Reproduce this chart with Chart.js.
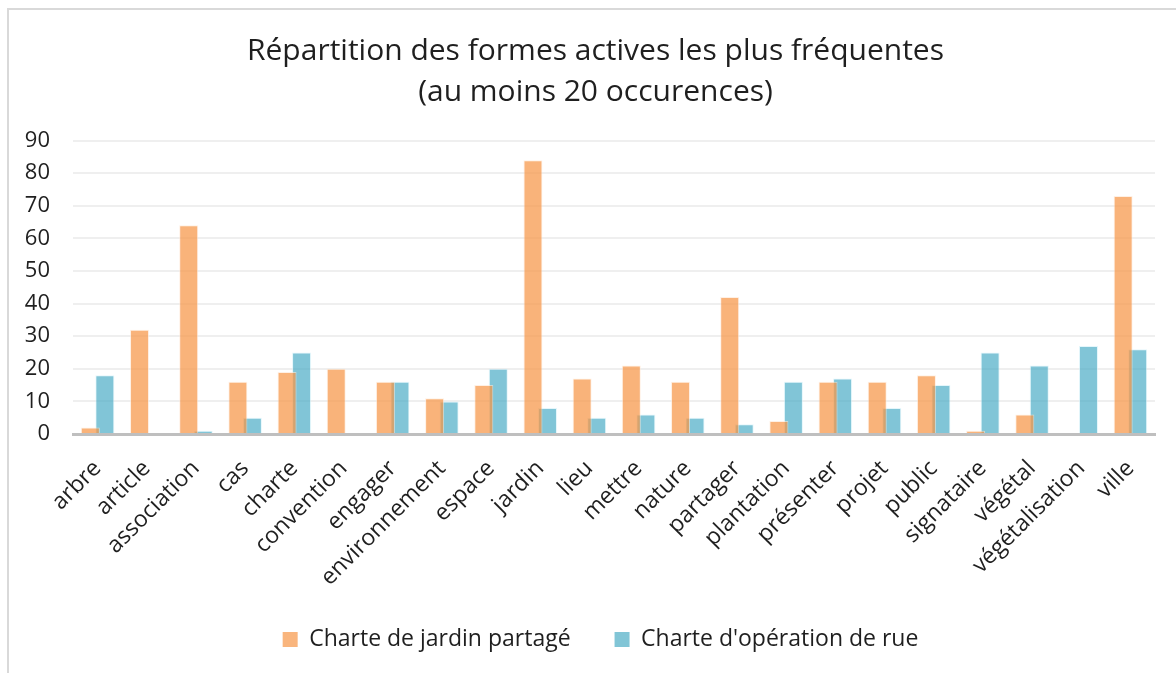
<!DOCTYPE html>
<html>
<head>
<meta charset="utf-8">
<script src="https://cdn.jsdelivr.net/npm/chart.js@4/dist/chart.umd.min.js"></script>
<style>
    html, body { margin: 0; padding: 0; background: #fff; overflow: hidden; }
    #frame {
        position: absolute; left: 7px; top: 8px;
        width: 1300px; height: 800px;
        border-left: 2px solid #d9d9d9; border-top: 2px solid #d9d9d9;
    }
    #wrap { position: absolute; left: 0; top: 0; width: 1176px; height: 673px; }
</style>
</head>
<body>
<div id="frame"></div>
<div id="wrap"><canvas id="formesChart"></canvas></div>
<script>
// catégories (formes actives)
const categories = ['arbre', 'article', 'association', 'cas', 'charte', 'convention', 'engager',
    'environnement', 'espace', 'jardin', 'lieu', 'mettre', 'nature', 'partager', 'plantation',
    'présenter', 'projet', 'public', 'signataire', 'végétal', 'végétalisation', 'ville'];

// occurrences par charte
const jardinPartage = [2, 32, 64, 16, 19, 20, 16, 11, 15, 84, 17, 21, 16, 42, 4, 16, 16, 18, 1, 6, 0, 73];
const operationRue  = [18, 0, 1, 5, 25, 0, 16, 10, 20, 8, 5, 6, 5, 3, 16, 17, 8, 15, 25, 21, 27, 26];

const seriesNames = ['Charte de jardin partagé', "Charte d'opération de rue"];
const titleLines = ['Répartition des formes actives les plus fréquentes', '(au moins 20 occurences)'];
const yTicks = [0, 10, 20, 30, 40, 50, 60, 70, 80, 90];

const FONT = "'Open Sans', sans-serif";
const INK = '#1f1f1f';

// le titre et la légende sont centrés sur le cadre complet (plus large que la fenêtre)
const recentrer = {
    id: 'recentrer',
    afterLayout(chart) {
        chart.titleBlock.left += 11;
        chart.titleBlock.right += 11;
        chart.legend.left += 16;
        chart.legend.right += 16;
    }
};

const ctx = document.getElementById('formesChart').getContext('2d');

new Chart(ctx, {
    type: 'bar',
    data: {
        labels: categories,
        datasets: [{
            label: seriesNames[0],
            data: jardinPartage,
            backgroundColor: 'rgba(247, 150, 70, 0.72)',
            borderColor: 'rgba(255, 230, 210, 0.6)',
            borderWidth: 1,
            categoryPercentage: 0.59,
            barPercentage: 1.31
        }, {
            label: seriesNames[1],
            data: operationRue,
            backgroundColor: 'rgba(75, 172, 198, 0.7)',
            borderColor: 'rgba(210, 240, 248, 0.6)',
            borderWidth: 1,
            categoryPercentage: 0.59,
            barPercentage: 1.31
        }]
    },
    plugins: [recentrer],
    options: {
        responsive: true,
        maintainAspectRatio: false,
        animation: false,
        layout: { padding: { left: 14, right: 21, top: 23, bottom: 12 } },
        plugins: {
            title: {
                display: true,
                text: titleLines,
                color: INK,
                font: { family: FONT, size: 30, weight: 'normal', lineHeight: 1.36 },
                padding: { top: 8, bottom: 28 }
            },
            legend: {
                display: true,
                position: 'bottom',
                labels: {
                    color: INK,
                    font: { family: FONT, size: 23 },
                    boxWidth: 15,
                    boxHeight: 15,
                    padding: 44,
                    generateLabels: chart => chart.data.datasets.map((ds, i) => ({
                        text: ds.label,
                        fillStyle: i === 0 ? '#f9b57d' : '#81c5d6',
                        strokeStyle: 'rgba(0,0,0,0)',
                        lineWidth: 0,
                        fontColor: INK,
                        datasetIndex: i
                    }))
                }
            },
            tooltip: { enabled: false }
        },
        scales: {
            x: {
                grid: { display: false },
                border: { display: true, color: '#bfbfbf', width: 3 },
                afterFit: axis => { axis.height = 150; },
                ticks: {
                    color: INK,
                    font: { family: FONT, size: 23 },
                    minRotation: 45,
                    maxRotation: 45,
                    autoSkip: false,
                    padding: 13
                }
            },
            y: {
                min: 0,
                max: 90,
                afterBuildTicks: axis => { axis.ticks = yTicks.map(v => ({ value: v })); },
                afterFit: axis => { axis.width = 59; },
                grid: { color: '#efefef', lineWidth: 2, drawTicks: false },
                border: { display: false },
                ticks: {
                    color: INK,
                    font: { family: FONT, size: 22 },
                    padding: 23
                }
            }
        }
    }
});
</script>
</body>
</html>
